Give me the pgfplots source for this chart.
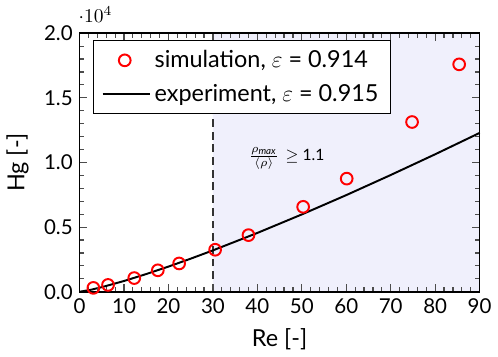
\documentclass[border=0pt]{standalone}
\usepackage{pgfplots}
\pgfplotsset{compat=1.18}
\usepackage{fontspec}
\setmainfont{Lato}
\definecolor{shade}{RGB}{240,240,252}
\begin{document}
\begin{tikzpicture}
\begin{axis}[
  scale only axis,
  width=205pt, height=132.5pt,
  xmin=0, xmax=90, ymin=0, ymax=20000,
  xtick={0,10,...,90},
  ytick={0,5000,10000,15000,20000},
  minor x tick num=4,
  minor y tick num=4,
  tick align=inside,
  major tick length=4pt,
  minor tick length=2.5pt,
  every tick/.style={black!70, line width=0.6pt},
  axis line style={line width=0.8pt},
  scaled y ticks=base 10:-4,
  every y tick scale label/.style={at={(rel axis cs:0,1)}, anchor=south west, yshift=2pt, xshift=-4pt, font=\fontsize{10}{11}\selectfont},
  yticklabel style={/pgf/number format/fixed, /pgf/number format/fixed zerofill, /pgf/number format/precision=1},
  /pgf/number format/assume math mode=true,
  tick label style={font=\fontsize{10.5}{12}\selectfont},
  xlabel={Re [-]}, ylabel={Hg [-]},
  label style={font=\fontsize{12}{14}\selectfont},
  xlabel style={yshift=-1pt},
  ylabel style={yshift=1pt},
  clip=false,
  axis on top,
  legend style={at={(rel axis cs:0.034,0.974)}, anchor=north west, font=\fontsize{12}{14}\selectfont, draw=black, line width=0.6pt, fill=white, inner xsep=4pt, inner ysep=3pt, row sep=3pt},
  legend cell align=left,
  legend image code/.code={},
]
\addplot[draw=none, fill=shade, forget plot] coordinates {(30,0) (90,0) (90,20000) (30,20000)} \closedcycle;
\addplot[dash pattern=on 4pt off 2.5pt, black!80, line width=0.8pt, forget plot] coordinates {(30,0) (30,20000)};
\addplot[only marks, mark=o, mark size=3pt, red, line width=1pt, legend image code/.code={\draw[red, line width=1pt] (0.4cm,0cm) circle (3pt);}] coordinates {
(3.1,300) (6.4,530) (12.3,1060) (17.6,1660) (22.4,2190) (30.5,3250) (38.0,4380) (50.3,6570) (60.1,8750) (74.8,13130) (85.4,17590)};
\addlegendentry{simulation, $\varepsilon$ = 0.914}
\addplot[black, line width=1pt, legend image code/.code={\draw[black, line width=1pt] (0cm,0cm) -- (0.85cm,0cm);}] coordinates {
(0,0) (2.5,150) (5,356) (10,833) (15,1370) (20,1947) (25,2560) (30,3200) (40,4550) (50,5981) (60,7475) (70,9031) (80,10634) (90,12286)};
\addlegendentry{experiment, $\varepsilon$ = 0.915}
\node[anchor=west, font=\fontsize{8}{9}\selectfont] at (axis cs:36.5,10300) {$\frac{\rho_{\mathit{max}}}{\langle\rho\rangle}$ \,$\geq$ 1.1};
\end{axis}
\end{tikzpicture}
\end{document}
